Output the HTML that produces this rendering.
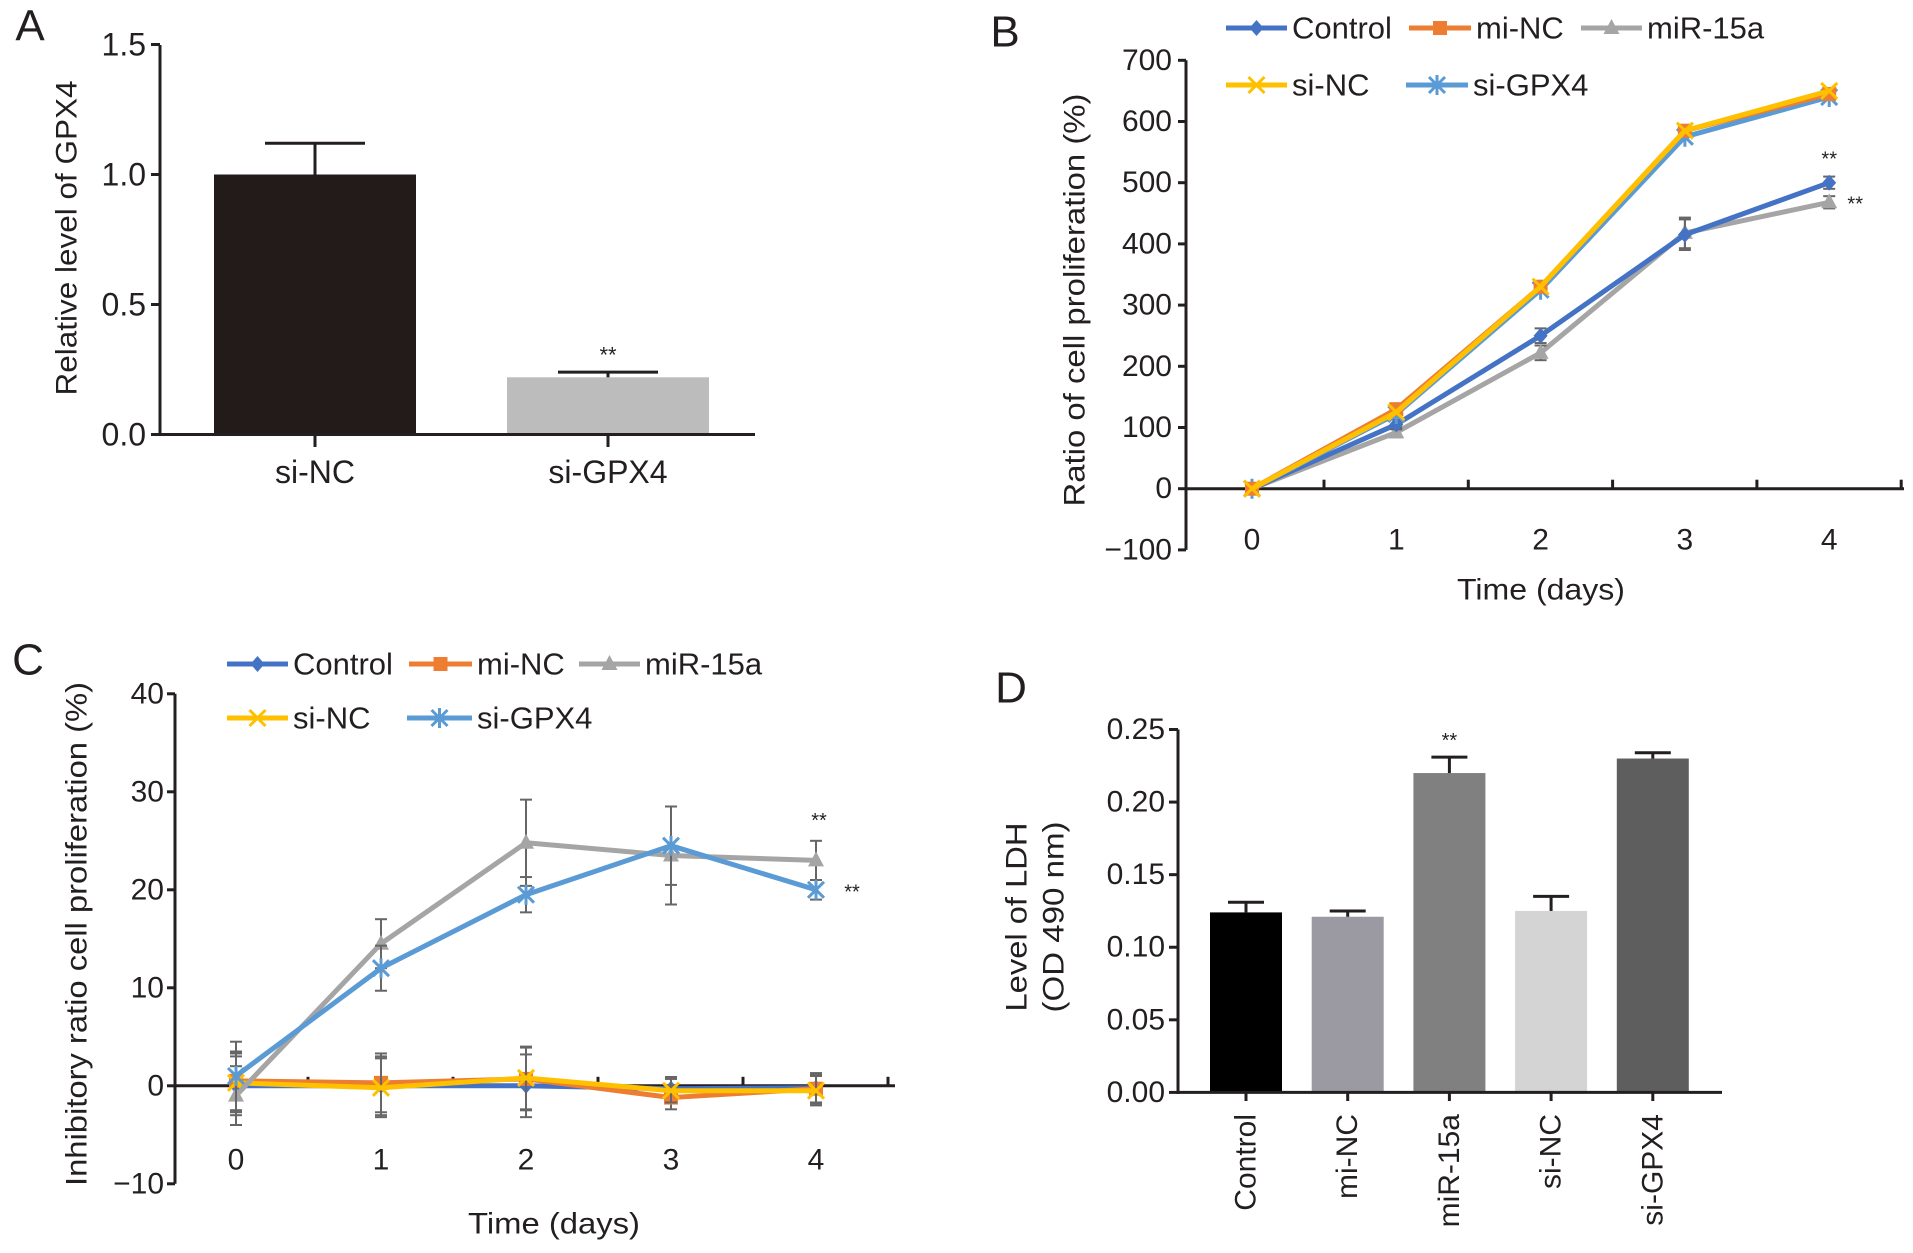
<!DOCTYPE html>
<html><head><meta charset="utf-8"><style>
html,body{margin:0;padding:0;background:#fff;overflow:hidden;}
svg{display:block;font-family:"Liberation Sans",Arial,sans-serif;}
</style></head><body>
<svg id="fig" width="1913" height="1253" viewBox="0 0 1913 1253" xmlns="http://www.w3.org/2000/svg">
<rect width="1913" height="1253" fill="#fff"/>
<g id="A"></g>
<g id="B"></g>
<g id="C"></g>
<g id="D"></g>
</svg>
<script>
// ---- Panel A data
const aCats = ["si-NC","si-GPX4"];
const aVals = [1.0, 0.22];
const aErr = [0.12, 0.02];
const aTicks = [0, 0.5, 1.0, 1.5];
const aTickLabels = ["0.0","0.5","1.0","1.5"];
// ---- Panel B data
const days = [0,1,2,3,4];
const bTicks = [-100,0,100,200,300,400,500,600,700];
const bControl = [0,105,250,415,500];
const bMiNC = [0,130,330,585,645];
const bMiR = [0,92,222,418,468];
const bSiNC = [0,125,330,585,650];
const bSiGPX4 = [0,122,325,575,640];
const bErrLow = [5,8,12,25,10];
// ---- Panel C data
const cTicks = [-10,0,10,20,30,40];
const cControl = [0,0,0,-0.3,-0.2];
const cMiNC = [0.5,0.3,0.7,-1.2,-0.3];
const cMiR = [-1,14.5,24.8,23.5,23];
const cSiNC = [0.3,-0.2,0.8,-0.5,-0.5];
const cSiGPX4 = [1,12,19.5,24.5,20];
const cErrMiR = [3,2.5,4.4,5,2];
const cErrGPX = [3.5,2.3,1.8,4,1];
const cErrFlat = [3,3,3.2,1.2,1.5];
// ---- Panel D data
const dCats = ["Control","mi-NC","miR-15a","si-NC","si-GPX4"];
const dVals = [0.124,0.121,0.220,0.125,0.230];
const dErr = [0.007,0.004,0.011,0.010,0.004];
const dTicks = [0,0.05,0.10,0.15,0.20,0.25];
const dTickLabels = ["0.00","0.05","0.10","0.15","0.20","0.25"];

const NS="http://www.w3.org/2000/svg";
function el(parent,tag,attrs,text){const e=document.createElementNS(NS,tag);for(const k in attrs)e.setAttribute(k,attrs[k]);if(text!==undefined)e.textContent=text;parent.appendChild(e);return e;}
function line(p,x1,y1,x2,y2,c,w,name){const e=el(p,'line',{x1,y1,x2,y2,stroke:c,'stroke-width':w});


return e;}
function txt(p,x,y,s,size,anchor,name,extra){const e=el(p,'text',Object.assign({x,y,'font-size':size,'text-anchor':anchor,'dominant-baseline':'central',fill:'#231f20'},extra||{}),s);


return e;}

function marker(p,type,x,y,c,name){
  let e;
  if(type==='diamond') e=el(p,'polygon',{points:`${x},${y-8} ${x+7},${y} ${x},${y+8} ${x-7},${y}`,fill:c});
  else if(type==='square') e=el(p,'rect',{x:x-7,y:y-7,width:14,height:14,fill:c});
  else if(type==='tri') e=el(p,'polygon',{points:`${x},${y-9} ${x+8},${y+6} ${x-8},${y+6}`,fill:c});
  else if(type==='x') e=el(p,'path',{d:`M${x-8},${y-8}L${x+8},${y+8}M${x+8},${y-8}L${x-8},${y+8}`,stroke:c,'stroke-width':3,fill:'none'});
  else e=el(p,'path',{d:`M${x-8},${y-8}L${x+8},${y+8}M${x+8},${y-8}L${x-8},${y+8}M${x},${y-10}L${x},${y+10}`,stroke:c,'stroke-width':3,fill:'none'});
  
  
}

// ================= Panel A
(function(){
  const g=document.getElementById('A');
  const y=v=>434.5-v*260, xc=[315,608];
  txt(g,30,26,'A',44,'middle','panel-label-a');
  aCats.forEach((c,i)=>{
    const r=el(g,'rect',{x:xc[i]-101,y:y(aVals[i]),width:202,height:434.5-y(aVals[i]),fill:i?'#bcbcbc':'#231a1a'});
    
    
    line(g,xc[i],y(aVals[i]),xc[i],y(aVals[i]+aErr[i]),'#231f20',3,'error-bar-'+c);
    line(g,xc[i]-50,y(aVals[i]+aErr[i]),xc[i]+50,y(aVals[i]+aErr[i]),'#231f20',3,'error-cap-'+c);
    line(g,xc[i],434,xc[i],447,'#231f20',3,'x-tick-'+c);
    txt(g,xc[i],472,c,32,'middle','x-label-'+c);
  });
  txt(g,608,355,'**',22,'middle','significance-a');
  line(g,160,45,160,436,'#231f20',3,'y-axis-a');
  line(g,158,434.5,755,434.5,'#231f20',3,'x-axis-a');
  aTicks.forEach((t,i)=>{line(g,151,y(t),160,y(t),'#231f20',3,'y-tick');txt(g,146,y(t),aTickLabels[i],32,'end','y-tick-label');});
  txt(g,67,238,'Relative level of GPX4',30,'middle','y-axis-title-a',{transform:'rotate(-90 67 238)',textLength:315,lengthAdjust:'spacingAndGlyphs'});
})();

const series=[
 {name:'Control',c:'#4472c4',m:'diamond'},
 {name:'mi-NC',c:'#ed7d31',m:'square'},
 {name:'miR-15a',c:'#a5a5a5',m:'tri'},
 {name:'si-NC',c:'#ffc000',m:'x'},
 {name:'si-GPX4',c:'#5b9bd5',m:'star'}];

function legend(g,pos){
  pos.forEach((p,i)=>{
    const s=series[i];
    line(g,p[0],p[2],p[1],p[2],s.c,5,'legend-line-'+s.name);
    marker(g,s.m,(p[0]+p[1])/2,p[2],s.c,'legend-marker-'+s.name);
    txt(g,p[1]+5,p[2],s.name,31,'start','legend-entry-'+s.name);
  });
}
function drawSeries(g,x,y,vals,s,w,errs){
  const pts=vals.map((v,i)=>x(i)+','+y(v)).join(' ');
  const pl=el(g,'polyline',{points:pts,fill:'none',stroke:s.c,'stroke-width':w,'stroke-linejoin':'round'});
  
  
  vals.forEach((v,i)=>{
    if(errs){line(g,x(i),y(v-errs[i]),x(i),y(v+errs[i]),'#666',2,'error-bar-'+s.name);
      line(g,x(i)-6,y(v+errs[i]),x(i)+6,y(v+errs[i]),'#666',2,'error-cap');
      line(g,x(i)-6,y(v-errs[i]),x(i)+6,y(v-errs[i]),'#666',2,'error-cap');}
    marker(g,s.m,x(i),y(v),s.c,'point-'+s.name);
  });
}

// ================= Panel B
(function(){
  const g=document.getElementById('B');
  const x=i=>1252+days[i]*144.3, y=v=>488.7-v*0.612;
  txt(g,1005,32,'B',44,'middle','panel-label-b');
  line(g,1186,y(700),1186,y(-100),'#231f20',3,'y-axis-b');
  line(g,1186,y(0),1904,y(0),'#231f20',3,'x-axis-b');
  bTicks.forEach(t=>{line(g,1178,y(t),1186,y(t),'#231f20',3,'y-tick');txt(g,1172,y(t),t<0?'\u2212'+(-t):String(t),30,'end','y-tick-label');});
  days.forEach(d=>{line(g,x(d)+72,y(0)-9,x(d)+72,y(0),'#231f20',3,'x-tick');txt(g,x(d),540,String(d),30,'middle','x-tick-label');});
  txt(g,1541,590,'Time (days)',30,'middle','x-axis-title-b',{textLength:168,lengthAdjust:'spacingAndGlyphs'});
  txt(g,1075,300,'Ratio of cell proliferation (%)',30,'middle','y-axis-title-b',{transform:'rotate(-90 1075 300)',textLength:413,lengthAdjust:'spacingAndGlyphs'});
  drawSeries(g,x,y,bMiR,series[2],5,bErrLow);
  drawSeries(g,x,y,bControl,series[0],5,bErrLow);
  drawSeries(g,x,y,bSiGPX4,series[4],5);
  drawSeries(g,x,y,bMiNC,series[1],5);
  drawSeries(g,x,y,bSiNC,series[3],5);
  txt(g,x(4),y(500)-23,'**',20,'middle','significance-b1');
  txt(g,x(4)+26,y(468)+2,'**',20,'middle','significance-b2');
  legend(g,[[1226,1287,28],[1409,1471,28],[1581,1642,28],[1226,1287,85],[1406,1468,85]]);
})();

// ================= Panel C
(function(){
  const g=document.getElementById('C');
  const x=i=>236+days[i]*145, y=v=>1085.8-v*9.8;
  txt(g,28,660,'C',44,'middle','panel-label-c');
  line(g,175,y(40),175,y(-10),'#231f20',3,'y-axis-c');
  line(g,175,y(0),895,y(0),'#231f20',3,'x-axis-c');
  cTicks.forEach(t=>{line(g,167,y(t),175,y(t),'#231f20',3,'y-tick');txt(g,164,y(t),t<0?'\u2212'+(-t):String(t),30,'end','y-tick-label');});
  days.forEach(d=>{line(g,x(d)+72,y(0)-9,x(d)+72,y(0),'#231f20',3,'x-tick');txt(g,x(d),1160,String(d),30,'middle','x-tick-label');});
  txt(g,554,1224,'Time (days)',30,'middle','x-axis-title-c',{textLength:172,lengthAdjust:'spacingAndGlyphs'});
  txt(g,77,934,'Inhibitory ratio cell proliferation (%)',30,'middle','y-axis-title-c',{transform:'rotate(-90 77 934)',textLength:504,lengthAdjust:'spacingAndGlyphs'});
  drawSeries(g,x,y,cControl,series[0],5,cErrFlat);
  drawSeries(g,x,y,cMiNC,series[1],5,cErrFlat);
  drawSeries(g,x,y,cSiNC,series[3],5,cErrFlat);
  drawSeries(g,x,y,cMiR,series[2],5,cErrMiR);
  drawSeries(g,x,y,cSiGPX4,series[4],5,cErrGPX);
  txt(g,x(4)+3,y(27),'**',20,'middle','significance-c1');
  txt(g,x(4)+36,y(19.7),'**',20,'middle','significance-c2');
  legend(g,[[227,288,664],[409,472,664],[579,640,664],[227,288,718],[407,472,718]]);
})();

// ================= Panel D
(function(){
  const g=document.getElementById('D');
  const y=v=>1092.4-v*1451.6;
  const xc=i=>1246+i*101.7;
  const cols=['#000000','#9b9aa2','#808080','#d4d4d4','#5e5e5e'];
  txt(g,1011,688,'D',44,'middle','panel-label-d');
  dCats.forEach((c,i)=>{
    const r=el(g,'rect',{x:xc(i)-36,y:y(dVals[i]),width:72,height:1092.4-y(dVals[i]),fill:cols[i]});
    
    
    line(g,xc(i),y(dVals[i]),xc(i),y(dVals[i]+dErr[i]),'#231f20',3,'error-bar-'+c);
    line(g,xc(i)-18,y(dVals[i]+dErr[i]),xc(i)+18,y(dVals[i]+dErr[i]),'#231f20',3,'error-cap-'+c);
    line(g,xc(i),1092,xc(i),1101,'#231f20',3,'x-tick-'+c);
    txt(g,xc(i),1114,c,30,'end','x-label-'+c,{transform:`rotate(-90 ${xc(i)} 1114)`});
  });
  txt(g,xc(2),741,'**',20,'middle','significance-d');
  line(g,1178,y(0.25),1178,1094,'#231f20',3,'y-axis-d');
  line(g,1177,1092.4,1722,1092.4,'#231f20',3,'x-axis-d');
  dTicks.forEach((t,i)=>{line(g,1169,y(t),1178,y(t),'#231f20',3,'y-tick');txt(g,1165,y(t),dTickLabels[i],30,'end','y-tick-label');});
  txt(g,1017,917,'Level of LDH',30,'middle','y-axis-title-d1',{transform:'rotate(-90 1017 917)',textLength:189,lengthAdjust:'spacingAndGlyphs'});
  txt(g,1054,917,'(OD 490 nm)',30,'middle','y-axis-title-d2',{transform:'rotate(-90 1054 917)',textLength:191,lengthAdjust:'spacingAndGlyphs'});
})();
</script>
</body></html>
